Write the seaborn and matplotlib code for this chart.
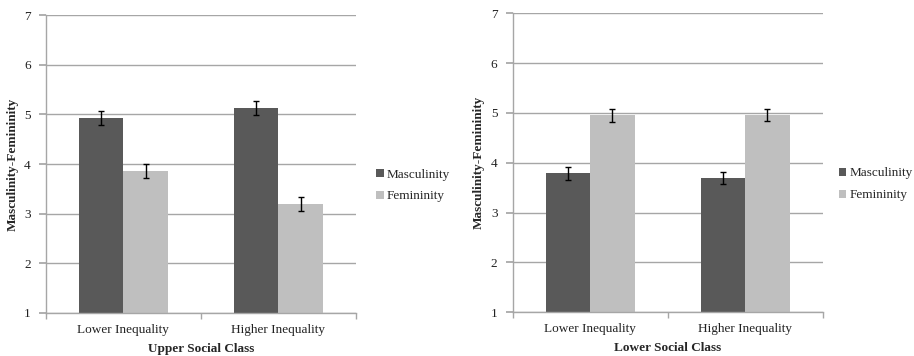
import matplotlib
matplotlib.use("Agg")
import matplotlib.pyplot as plt
from matplotlib.patches import Patch
from matplotlib.ticker import FixedLocator
import seaborn as sns
import pandas as pd
import numpy as np

categories = ["Lower Inequality", "Higher Inequality"]
series = ["Masculinity", "Femininity"]

upper_masc = [4.93, 5.12]
upper_fem = [3.86, 3.19]
upper_masc_err = [0.135, 0.14]
upper_fem_err = [0.15, 0.145]

lower_masc = [3.79, 3.70]
lower_fem = [4.95, 4.96]
lower_masc_err = [0.13, 0.12]
lower_fem_err = [0.125, 0.12]

panel_titles = ["Upper Social Class", "Lower Social Class"]
y_label = "Masculinity-Femininity"
y_ticks = [1, 2, 3, 4, 5, 6, 7]

colors = {"Masculinity": "#595959", "Femininity": "#bfbfbf"}

sns.set_theme(style="white")
plt.rcParams["font.family"] = ["Liberation Serif", "DejaVu Serif"]

fig = plt.figure(figsize=(9.14, 3.56), dpi=100)
ax_l = fig.add_axes([0.0503, 0.1208, 0.339, 0.837])
ax_r = fig.add_axes([0.561, 0.1228, 0.339, 0.840])

panels = [
    (ax_l, upper_masc, upper_fem, upper_masc_err, upper_fem_err, panel_titles[0], 1.066),
    (ax_r, lower_masc, lower_fem, lower_masc_err, lower_fem_err, panel_titles[1], 1.052),
]

grid_c = "#a6a6a6"
for ax, m, f, me, fe, title, lx in panels:
    df = pd.DataFrame({
        "cat": categories * 2,
        "series": [series[0]] * 2 + [series[1]] * 2,
        "val": m + f,
    })
    ax.set_axisbelow(True)
    sns.barplot(data=df, x="cat", y="val", hue="series", hue_order=series,
                order=categories, palette=colors, width=0.575, gap=0,
                errorbar=None, ax=ax, legend=False, linewidth=0)
    bars = [p for p in ax.patches]
    xs = [p.get_x() + p.get_width() / 2 for p in bars]
    hs = [p.get_height() for p in bars]
    errs = me + fe
    ax.errorbar(xs, hs, yerr=errs, fmt="none", ecolor="black",
                elinewidth=1.0, capsize=2.5, capthick=1.0, zorder=5)
    ax.set_ylim(1, 7)
    ax.set_xlim(-0.5, 1.5)
    ax.set_yticks(y_ticks)
    ax.yaxis.grid(True, color=grid_c, linewidth=1.0)
    ax.xaxis.grid(False)
    for s in ["top", "right"]:
        ax.spines[s].set_visible(False)
    for s in ["left", "bottom"]:
        ax.spines[s].set_color(grid_c)
        ax.spines[s].set_linewidth(1.0)
    ax.tick_params(axis="y", which="major", length=5, color=grid_c,
                   labelsize=9.5, pad=6, left=True)
    ax.tick_params(axis="x", which="major", length=0, labelsize=9.5, pad=8)
    ax.xaxis.set_minor_locator(FixedLocator([-0.5, 0.5, 1.5]))
    ax.tick_params(axis="x", which="minor", length=4, color=grid_c,
                   bottom=True, direction="out")
    for lbl in ax.get_xticklabels() + ax.get_yticklabels():
        lbl.set_color("#222222")
    ax.set_xlabel(title, fontsize=9.5, fontweight="bold", labelpad=5)
    ax.set_ylabel(y_label, fontsize=9.5, fontweight="bold", labelpad=4)

    handles = [Patch(facecolor=colors[s], edgecolor="none", label=s) for s in series]
    ax.legend(handles=handles, loc="center left", bbox_to_anchor=(lx, 0.428),
              frameon=False, fontsize=9.5, handlelength=0.55, handleheight=0.55,
              handletextpad=0.25, labelspacing=0.75, borderaxespad=0,
              borderpad=0)

fig.savefig("out.png", dpi=100)
